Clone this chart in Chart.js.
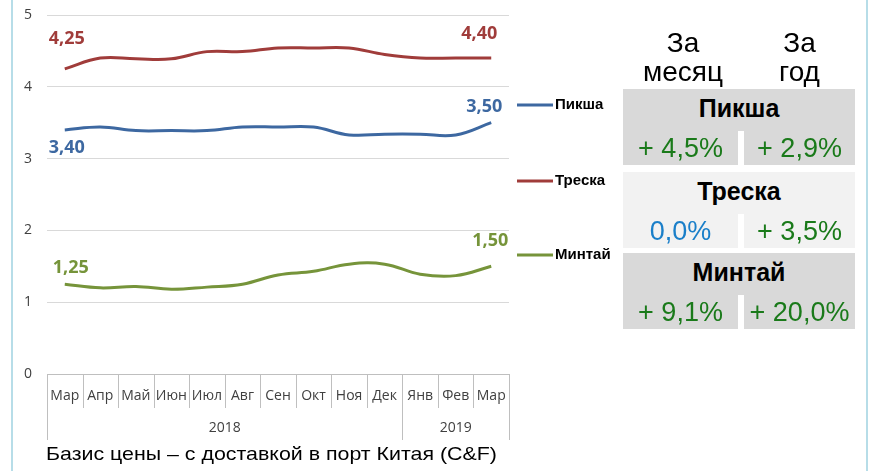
<!DOCTYPE html>
<html>
<head>
<meta charset="utf-8">
<script src="https://cdn.jsdelivr.net/npm/chart.js@4"></script>
<style>
  html, body { margin: 0; padding: 0; background: #fff; }
  #wrap { position: relative; width: 871px; height: 471px; overflow: hidden; }
  #chart { position: absolute; left: 0; top: 0; }
  .edge { position: absolute; top: 0; width: 2px; height: 471px; background: #b7dde8; }
  .head { position: absolute; top: 28px; text-align: center;
          font: 28px "Liberation Sans", Arial, sans-serif; line-height: 29px; color: #000; }
  .blk { position: absolute; left: 623px; width: 232px; }
  .blk .name { height: 42px; text-align: center;
               font: bold 25px "Liberation Sans", Arial, sans-serif; line-height: 39px; color: #000; }
  .blk .cell { position: absolute; top: 42px; height: 34px; text-align: center;
               font: 27px "Liberation Sans", Arial, sans-serif; line-height: 34px; }
  #caption { position: absolute; left: 46px; top: 443px; font: 19px "Liberation Sans", Arial, sans-serif;
             color: #000; white-space: nowrap; transform: scaleX(1.125); transform-origin: 0 0; }
</style>
</head>
<body>
<div id="wrap">
  <div class="edge" style="left:11px"></div>
  <div class="edge" style="left:866px"></div>
  <canvas id="chart" width="871" height="471"></canvas>
  <div id="table"></div>
  <div id="caption">Базис цены – с доставкой в порт Китая (C&amp;F)</div>
</div>
<script>
// months and prices
const months = ['Мар', 'Апр', 'Май', 'Июн', 'Июл', 'Авг', 'Сен', 'Окт', 'Ноя', 'Дек', 'Янв', 'Фев', 'Мар'];
const years = ['2018', '2019'];
const yearSpans = [10, 3];

const pikshaPrices = [3.40, 3.44, 3.39, 3.39, 3.39, 3.44, 3.44, 3.44, 3.33, 3.34, 3.34, 3.33, 3.50];
const treskaPrices = [4.25, 4.40, 4.39, 4.39, 4.49, 4.49, 4.54, 4.54, 4.54, 4.45, 4.40, 4.40, 4.40];
const mintaiPrices = [1.25, 1.20, 1.22, 1.18, 1.21, 1.25, 1.38, 1.43, 1.53, 1.53, 1.39, 1.37, 1.50];

const seriesNames = ['Пикша', 'Треска', 'Минтай'];
const monthChange = ['+ 4,5%', '0,0%', '+ 9,1%'];
const yearChange = ['+ 2,9%', '+ 3,5%', '+ 20,0%'];

const colors = ['#3d68a1', '#a03c3a', '#76943a'];

// table on the right
const blockTops = [89, 172, 253];
const blockBg = ['#d9d9d9', '#f2f2f2', '#d9d9d9'];
function changeColor(s) {
    return s.indexOf('+') === 0 ? '#1a7a1a' : '#1a7fc9';
}
let html = '<div class="head" style="left:623px;width:120px">За<br>месяц</div>'
         + '<div class="head" style="left:744px;width:111px">За<br>год</div>';
for (let i = 0; i < seriesNames.length; i++) {
    html += '<div class="blk" style="top:' + blockTops[i] + 'px;height:76px">'
         + '<div class="name" style="background:' + blockBg[i] + '">' + seriesNames[i] + '</div>'
         + '<div class="cell" style="left:0;width:115px;background:' + blockBg[i] + ';color:' + changeColor(monthChange[i]) + '">' + monthChange[i] + '</div>'
         + '<div class="cell" style="left:121px;width:111px;background:' + blockBg[i] + ';color:' + changeColor(yearChange[i]) + '">' + yearChange[i] + '</div>'
         + '</div>';
}
document.getElementById('table').innerHTML = html;

const axisFont = {family: '"Open Sans", sans-serif', size: 14};

// first/last value labels, offsets in px from the point
const labelOffsets = [
    [{dx: 2, dy: 18}, {dx: -7, dy: -16}],    // Пикша
    [{dx: 2, dy: -30}, {dx: -12, dy: -24}],  // Треска
    [{dx: 6, dy: -16}, {dx: -1, dy: -25}]    // Минтай
];
const legendY = [105, 181, 255];

const extras = {
    id: 'extras',
    afterDraw(chart) {
        const ctx = chart.ctx;
        const x = chart.scales.x;
        const area = chart.chartArea;
        const w = x.getPixelForValue(1) - x.getPixelForValue(0);
        ctx.save();

        // category boxes under the axis
        ctx.strokeStyle = '#bfbfbf';
        ctx.lineWidth = 1;
        let longAt = [0];
        let acc = 0;
        yearSpans.forEach(s => { acc += s; longAt.push(acc); });
        for (let i = 0; i <= months.length; i++) {
            const px = Math.round(x.getPixelForValue(0) - w / 2 + i * w) + 0.5;
            const bottom = longAt.indexOf(i) >= 0 ? 440 : 408;
            ctx.beginPath();
            ctx.moveTo(px, area.bottom);
            ctx.lineTo(px, bottom);
            ctx.stroke();
        }

        // year labels
        ctx.fillStyle = '#404040';
        ctx.font = '14px "Open Sans", sans-serif';
        ctx.textAlign = 'center';
        ctx.textBaseline = 'middle';
        let start = 0;
        years.forEach((y, i) => {
            const end = start + yearSpans[i] - 1;
            const cx = (x.getPixelForValue(start) + x.getPixelForValue(end)) / 2;
            ctx.fillText(y, cx, 428);
            start += yearSpans[i];
        });

        // value labels on first and last points
        ctx.font = 'bold 18px "Open Sans", sans-serif';
        chart.data.datasets.forEach((ds, di) => {
            const meta = chart.getDatasetMeta(di);
            const idx = [0, ds.data.length - 1];
            idx.forEach((p, k) => {
                const el = meta.data[p];
                const off = labelOffsets[di][k];
                ctx.fillStyle = ds.borderColor;
                ctx.fillText(ds.data[p].toFixed(2).replace('.', ','), el.x + off.dx, el.y + off.dy);
            });
        });

        // legend
        ctx.font = 'bold 15px "Liberation Sans", Arial, sans-serif';
        ctx.textAlign = 'left';
        chart.data.datasets.forEach((ds, di) => {
            const ly = legendY[di];
            ctx.strokeStyle = ds.borderColor;
            ctx.lineWidth = 3;
            ctx.beginPath();
            ctx.moveTo(517, ly);
            ctx.lineTo(553, ly);
            ctx.stroke();
            ctx.fillStyle = '#000';
            ctx.fillText(ds.label, 555, ly);
        });
        ctx.restore();
    }
};

const datasets = [pikshaPrices, treskaPrices, mintaiPrices].map((d, i) => ({
    label: seriesNames[i],
    data: d,
    borderColor: colors[i],
    backgroundColor: colors[i],
    borderWidth: 3,
    tension: 0.4,
    pointRadius: 0
}));

new Chart(document.getElementById('chart'), {
    type: 'line',
    data: {labels: months, datasets: datasets},
    plugins: [extras],
    options: {
        responsive: false,
        animation: false,
        layout: {padding: {left: 7, right: 362, top: 15, bottom: 0}},
        plugins: {legend: {display: false}, tooltip: {enabled: false}},
        scales: {
            x: {
                offset: true,
                grid: {display: false},
                border: {display: true, color: '#bfbfbf', width: 1},
                ticks: {color: '#404040', font: axisFont, padding: 6, maxRotation: 0, autoSkip: false},
                afterFit(s) { s.height = 97; }
            },
            y: {
                min: 0,
                max: 5,
                ticks: {stepSize: 1, color: '#404040', font: axisFont, padding: 15},
                grid: {color: '#d9d9d9', drawTicks: false},
                border: {display: false},
                // fixed width, and no extra room above the top tick
                afterFit(s) { s.width = 40; s.paddingTop = 0; }
            }
        }
    }
});
</script>
</body>
</html>
